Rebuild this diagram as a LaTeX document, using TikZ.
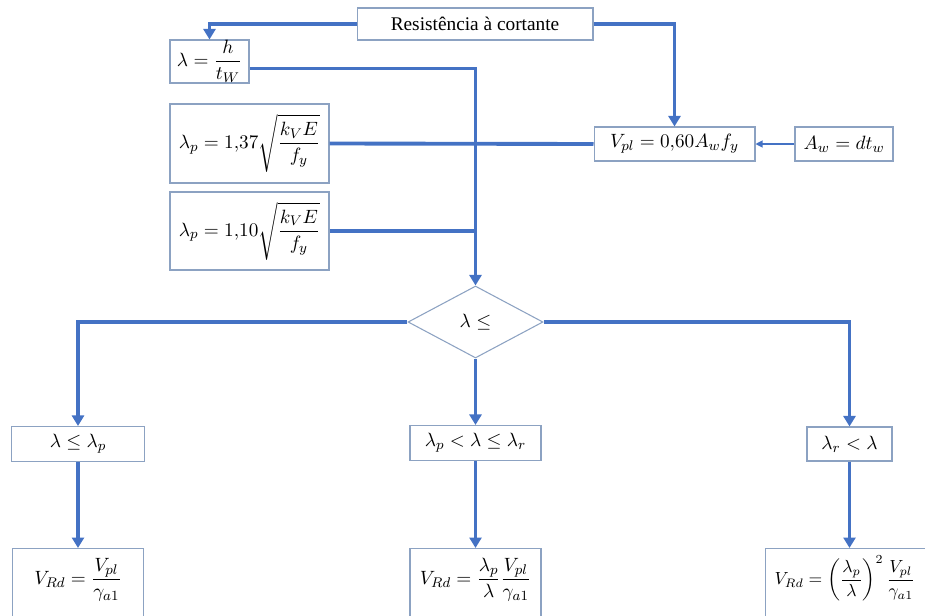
\documentclass[tikz,border=0pt]{standalone}
\usepackage{amsmath}
\usepackage{fontspec}
\setmainfont{Liberation Serif}
\usetikzlibrary{shapes.geometric,arrows.meta}

\definecolor{flowblue}{RGB}{68,114,196}
\definecolor{boxline}{RGB}{140,162,194}

\begin{document}
\begin{tikzpicture}[
    x=0.02cm, y=-0.02cm,
    >={Triangle[length=2.1mm,width=2.4mm]},
    % flowchart styles
    block/.style={rectangle, draw=boxline, line width=0.6pt, fill=white, inner sep=0, align=center, font=\fontsize{11}{13}\selectfont},
    decision/.style={diamond, draw=boxline, line width=0.6pt, fill=white, inner sep=0, minimum width=2.7cm, minimum height=1.44cm, font=\fontsize{11}{13}\selectfont},
    result/.style={block, anchor=north, text height=0.72cm, text depth=1.1cm},
    flow/.style={->, draw=flowblue, color=flowblue, line width=2.2pt},
    link/.style={draw=flowblue, line width=2.2pt},
    thinflow/.style={-{Triangle[length=1.4mm,width=1.4mm]}, draw=flowblue, color=flowblue, line width=0.6pt}
  ]
  \useasboundingbox (0,0) rectangle (925,615);
  \clip (0,0) rectangle (925,615);

  % Input data
  \node[block, minimum width=4.72cm, minimum height=0.64cm] (title) at (475,24) {Resistência à cortante};
  \node[block, minimum width=1.58cm, minimum height=0.86cm] (lam) at (209.5,61.5) {$\lambda = \dfrac{h}{t_W}$};
  \node[block, minimum width=3.18cm, minimum height=1.58cm] (lpa) at (249.5,143.5) {$\lambda_p = 1{,}37\sqrt{\dfrac{k_V E}{f_y}}$};
  \node[block, minimum width=3.18cm, minimum height=1.56cm] (lpb) at (249.5,231) {$\lambda_p = 1{,}10\sqrt{\dfrac{k_V E}{f_y}}$};
  \node[block, minimum width=3.22cm, minimum height=0.68cm] (vpl) at (674.5,144) {$V_{pl} = 0{,}60 A_w f_y$};
  \node[block, minimum width=1.96cm, minimum height=0.68cm] (aw) at (844,144) {$A_w = d t_w$};

  % Decision
  \node[decision] (dec) at (475.5,322) {$\lambda \leq$};

  % Cases
  \node[block, minimum width=2.66cm, minimum height=0.7cm] (c1) at (78,444) {$\lambda \leq \lambda_p$};
  \node[block, minimum width=2.62cm, minimum height=0.7cm] (c2) at (475.5,443) {$\lambda_p < \lambda \leq \lambda_r$};
  \node[block, minimum width=1.7cm, minimum height=0.68cm] (c3) at (849.5,444) {$\lambda_r < \lambda$};

  % Results
  \node[result, minimum width=2.62cm] (r1) at (78,548) {$V_{Rd} = \dfrac{V_{pl}}{\gamma_{a1}}$};
  \node[result, minimum width=2.62cm] (r2) at (475.5,548) {$V_{Rd} = \dfrac{\lambda_p}{\lambda}\dfrac{V_{pl}}{\gamma_{a1}}$};
  \node[result, minimum width=3.4cm, font=\fontsize{10}{12}\selectfont] (r3) at (850,548) {$V_{Rd} = \left(\dfrac{\lambda_p}{\lambda}\right)^{2}\dfrac{V_{pl}}{\gamma_{a1}}$\hspace*{0.2cm}};

  % Connectors
  \draw[flow] (title.west) -| (lam.north);
  \draw[flow] (title.east) -| (vpl.north);
  \draw[flow] ([yshift=-0.14cm]lam.east) -| (dec.north);
  \draw[link] (lpa.east) -- (vpl.west);
  \draw[link] (lpb.east) -- (lpb.east -| dec.north);
  \draw[thinflow] (aw.west) -- (vpl.east);

  \draw[flow] (dec.west) -| (c1.north);
  \draw[flow] (dec.south) -- (c2.north);
  \draw[flow] (dec.east) -| (c3.north);

  \draw[flow] (c1.south) -- (r1.north);
  \draw[flow] (c2.south) -- (r2.north);
  \draw[flow] (c3.south) -- (r3.north -| c3.south);
\end{tikzpicture}
\end{document}
